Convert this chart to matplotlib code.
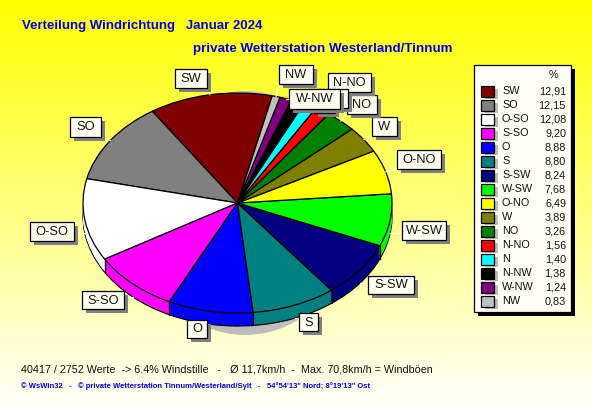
import numpy as np
import matplotlib
matplotlib.use("Agg")
import matplotlib.pyplot as plt
from matplotlib.patches import Rectangle, Ellipse

plt.rcParams['font.family'] = ['Liberation Sans', 'DejaVu Sans']

directions = ["SW", "SO", "O-SO", "S-SO", "O", "S", "S-SW", "W-SW", "O-NO", "W", "NO", "N-NO", "N", "N-NW", "W-NW", "NW"]
percent = [12.91, 12.15, 12.08, 9.20, 8.88, 8.80, 8.24, 7.68, 6.49, 3.89, 3.26, 1.56, 1.40, 1.38, 1.24, 0.83]
percent_labels = ["12,91", "12,15", "12,08", "9,20", "8,88", "8,80", "8,24", "7,68", "6,49", "3,89", "3,26", "1,56", "1,40", "1,38", "1,24", "0,83"]
colors = ["#800000", "#808080", "#FFFFFF", "#FF00FF", "#0000FF", "#008080", "#000080", "#00FF00",
          "#FFFF00", "#808000", "#008000", "#FF0000", "#00FFFF", "#000000", "#800080", "#C0C0C0"]

# label boxes in pixels: x0, x1, y0, y1
label_boxes = {
    "SW": (175, 207, 69, 88), "SO": (70, 101, 117, 137), "O-SO": (30, 74, 222, 241),
    "S-SO": (82, 124, 291, 309), "O": (187, 207, 320, 338), "S": (299, 318, 313, 331),
    "S-SW": (368, 414, 276, 294), "W-SW": (402, 446, 221, 240), "O-NO": (397, 441, 150, 169),
    "W": (372, 397, 117, 136), "NO": (347, 377, 95, 114), "N-NO": (328, 371, 73, 92),
    "N": (314, 335, 94, 113), "N-NW": (302, 348, 89, 108), "W-NW": (289, 340, 89, 109),
    "NW": (279, 313, 65, 84),
}
label_order = ["SW", "SO", "O-SO", "S-SO", "O", "S", "S-SW", "W-SW", "O-NO", "W", "NO", "N", "N-NO", "N-NW", "NW", "W-NW"]

W, H = 592, 407
CX, CY, RX, RY, DEPTH = 237.5, 203.0, 154.5, 110.0, 13
fig = plt.figure(figsize=(W / 100, H / 100), dpi=100)

# page: pixel coordinates
page = fig.add_axes([0, 0, 1, 1], zorder=0)
grad = np.zeros((H, 1, 3))
t = np.linspace(0, 1, H)
grad[:, 0, 0] = 1
grad[:, 0, 1] = 1
grad[:, 0, 2] = np.clip(t * 0.98, 0, 1)
page.imshow(grad, extent=(0, W, H, 0), aspect="auto", zorder=0)
page.set_xlim(0, W)
page.set_ylim(H, 0)
page.axis("off")
page.add_patch(Ellipse((245, 213), 220, 244, fc="#BDBDBD", ec="none", zorder=1))

# pie: unit radius stretched to the ellipse
pie_ax = fig.add_axes([(CX - RX) / W, 1 - (CY + RY) / H, 2 * RX / W, 2 * RY / H], zorder=1)
pie_ax.patch.set_alpha(0)
off = DEPTH / RY
START = 77
for d in range(DEPTH, 0, -1):
    lw = 0.9 if d == DEPTH else 0
    pie_ax.pie(percent, colors=colors, startangle=START, center=(0, -d * off / DEPTH), radius=1,
               wedgeprops=dict(edgecolor="black", linewidth=lw, clip_on=False))
wedges, _ = pie_ax.pie(percent, colors=colors, startangle=START, center=(0, 0), radius=1,
                       wedgeprops=dict(edgecolor="black", linewidth=0.9, clip_on=False))
for w in wedges:
    a = np.deg2rad(w.theta1 % 360)
    if np.sin(a) < 0:
        pie_ax.plot([np.cos(a)] * 2, [np.sin(a), np.sin(a) - off], color="black", lw=0.9, clip_on=False)
pie_ax.set_aspect("auto")
pie_ax.set_xlim(-1, 1)
pie_ax.set_ylim(-1, 1)
pie_ax.axis("off")

# overlay for labels and legend
top = fig.add_axes([0, 0, 1, 1], zorder=2)
top.set_xlim(0, W)
top.set_ylim(H, 0)
top.axis("off")
top.patch.set_alpha(0)

LABEL_FS = 9.3
for w, name in zip(wedges, directions):
    x0, x1, y0, y1 = label_boxes[name]
    mid = np.deg2rad((w.theta1 + w.theta2) / 2)
    px = CX + RX * np.cos(mid)
    py = CY - RY * np.sin(mid) + (DEPTH if np.sin(mid) < 0 else 0)
    qx, qy = np.clip(px, x0, x1), np.clip(py, y0, y1)
    top.plot([px, qx], [py, qy], color="white", lw=0.8, zorder=3)

for i, name in enumerate(label_order):
    x0, x1, y0, y1 = label_boxes[name]
    z = 4 + i * 0.1
    top.add_patch(Rectangle((x0 + 4, y0 + 4), x1 - x0, y1 - y0, fc="#808080", ec="none", zorder=z))
    top.add_patch(Rectangle((x0, y0), x1 - x0, y1 - y0, fc="#FFFFF0", ec="black", lw=0.9, zorder=z + 0.01))
    top.text((x0 + x1) / 2, (y0 + y1) / 2 + 0.5, name, ha="center", va="center", fontsize=LABEL_FS,
             color="#111111", zorder=z + 0.02)

# legend
top.add_patch(Rectangle((478, 69), 97, 247, fc="black", ec="none", zorder=5))
top.add_patch(Rectangle((474, 65), 97, 247, fc="#FFFFF8", ec="black", lw=0.9, zorder=5.1))
top.text(553, 75, "%", ha="center", va="center", fontsize=7.8, color="#111111", zorder=6)
for i, (name, col, lab) in enumerate(zip(directions, colors, percent_labels)):
    y = 91 + 14 * i
    top.add_patch(Rectangle((485, y - 2), 13, 10, fc="#BDBDBD", ec="none", zorder=5.5))
    top.add_patch(Rectangle((481, y - 5.5), 13, 11, fc=col, ec="black", lw=0.9, zorder=5.6))
    top.text(502, y, name, ha="left", va="center", fontsize=7.8, color="#111111", zorder=6)
    top.text(566, y, lab, ha="right", va="center", fontsize=7.8, color="#111111", zorder=6)

# texts
top.text(22, 26, "Verteilung Windrichtung   Januar 2024", color="#0000F0", fontsize=9.5,
         fontweight="bold", ha="left", va="center")
top.text(193, 49, "private Wetterstation Westerland/Tinnum", color="#0000F0", fontsize=9.6,
         fontweight="bold", ha="left", va="center")
top.text(21, 369, "40417 / 2752 Werte  -> 6.4% Windstille   -   Ø 11,7km/h  -  Max. 70,8km/h = Windböen",
         color="#111111", fontsize=7.75, ha="left", va="center")
top.text(21, 386, "© WsWin32   -   © private Wetterstation Tinnum/Westerland/Sylt   -   54°54'13\" Nord; 8°19'13\" Ost",
         color="#0000F0", fontsize=5.5, fontweight="bold", ha="left", va="center")

fig.savefig("out.png", dpi=100)
